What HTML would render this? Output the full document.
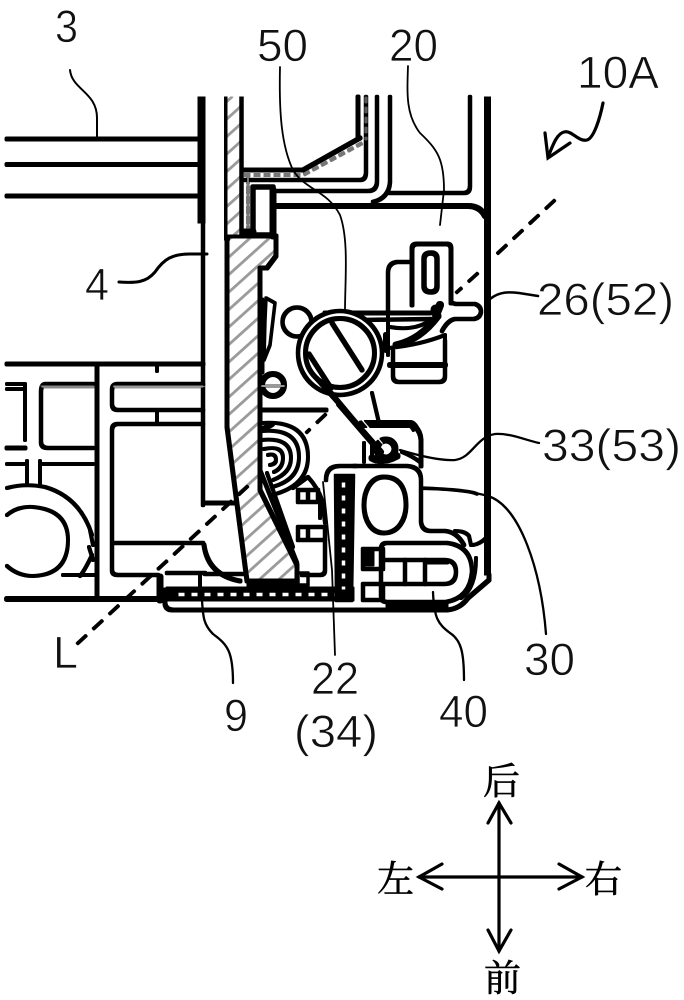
<!DOCTYPE html>
<html><head><meta charset="utf-8"><style>
html,body{margin:0;padding:0;background:#fff}
svg{display:block}
text{font-family:"Liberation Sans","Noto Sans CJK SC",sans-serif;font-size:45px;fill:#111;stroke:#fff;stroke-width:.7px;paint-order:normal}
.c{font-family:"Noto Serif CJK SC","Noto Sans CJK SC",serif;font-size:37px;stroke:#000;stroke-width:.6px;fill:#000}
</style></head><body>
<svg width="684" height="1000" viewBox="0 0 684 1000" xmlns="http://www.w3.org/2000/svg">
<defs>
<pattern id="h" width="13" height="13" patternUnits="userSpaceOnUse" patternTransform="rotate(-42)">
<rect width="13" height="13" fill="#fff"/><rect y="5.500" width="13" height="1.400" fill="#9a9a9a"/>
</pattern>
<filter id="thick" filterUnits="userSpaceOnUse" x="0" y="0" width="684" height="1000" color-interpolation-filters="sRGB">
<feMorphology operator="erode" radius="0.5"/>
<feGaussianBlur stdDeviation="0.35"/>
</filter>
</defs>
<rect width="684" height="1000" fill="#fff"/>
<g filter="url(#thick)">
<rect width="684" height="1000" fill="#fff"/>
<g fill="none" stroke="#000" stroke-width="3.5" stroke-linecap="round" stroke-linejoin="round">

<!-- upper left horizontal rails -->
<path d="M7 139H200M7 164.500H200M7 196H200" stroke-width="4"/>
<path d="M201.500 97V223" stroke-width="7" stroke-linecap="butt"/>
<path d="M203 222V505" stroke-width="3.500"/>

<!-- hatched post -->
<path d="M227 236V427L247 581H297V565L260 490V268H267L276 256V236Z" fill="url(#h)" stroke-width="4"/>
<path d="M227 97V240" stroke-width="5" stroke-linecap="butt"/>
<path d="M227 97H241V235H227Z" fill="url(#h)" stroke="none"/>
<path d="M241.500 97V236" stroke-width="3.500" stroke-linecap="butt"/>
<path d="M243 232H253" stroke-width="6"/>
<path d="M244 170H303L360 138" stroke-width="4"/>
<path d="M244 180H360Q366 180 366 172V97" stroke-width="3.500"/>
<path d="M358 97V138" stroke-width="4"/>
<path d="M244 175H303L366 141" stroke="#777" stroke-width="3" stroke-dasharray="6 4" stroke-linecap="butt"/>
<path d="M366 97V140" stroke="#777" stroke-width="2.500" stroke-dasharray="6 4"/>
<path d="M248 177V228" stroke="#777" stroke-width="3" stroke-dasharray="6 4"/>
<path d="M253 187H273V235H253Z" stroke-width="4.500"/>
<path d="M273 190V236" stroke-width="6"/>
<path d="M277 191H368Q377 191 377 181V97" stroke-width="3.500"/>
<path d="M373 202Q389 198 390 182V97" stroke-width="3.500"/>
<path d="M389 193H464Q470 193 470 186V97" stroke-width="3.500"/>
<path d="M275 206H468Q480 206 485 216" stroke-width="5"/>

<!-- outer right wall -->
<path d="M487.500 97V575" stroke-width="6" stroke-linecap="butt"/>
<path d="M489 575V580L468 598" stroke-width="4"/>

<!-- thin clip on post -->
<path d="M266 298L275 303L270 345L264 360L265 320Z" stroke-width="2.500"/>
<path d="M262 300V372" stroke-width="4"/>

<!-- left frame -->
<path d="M7 364H203" stroke-width="4"/>
<path d="M157 364V371M157 410V424" stroke-width="3"/>
<path d="M97 366V596" stroke-width="4"/>
<path d="M7 599H160" stroke-width="5"/>
<path d="M7 384H25V440M7 389H25" stroke-width="3"/>
<path d="M93 384H46Q41 384 41 392V442Q41 448 48 448H93" stroke-width="3.500"/>
<path d="M42 386.500H93" stroke="#888" stroke-width="3" />
<path d="M7 448H25" stroke-width="4"/>
<path d="M203 384H118Q112 384 112 390V404Q112 410 118 410H203" stroke-width="3.500"/>
<path d="M114 386.500H203" stroke="#999" stroke-width="3"/>
<path d="M203 424H118Q112 424 112 430V570Q112 575 118 575H158" stroke-width="3.500"/>
<path d="M113 543H203" stroke-width="3.500"/>
<path d="M7 464H25M42 464H93" stroke-width="3"/>
<path d="M27 461V484M40 461V484" stroke-width="3"/>
<path d="M7 488Q25 483 45 487Q80 497 92 535" stroke-width="3"/>
<path d="M7 515Q18 506 33 507Q68 510 68 540Q68 575 33 576Q18 576 7 566" stroke-width="3"/>
<path d="M92 555Q85 570 80 576M63 575H97" stroke-width="3"/>
<path d="M90 530L93 545M89 547L93 560" stroke-width="3"/>

<!-- small pin circle on post -->
<circle cx="273" cy="385" r="11" stroke-width="5"/>
<path d="M262 386H284" stroke="#999" stroke-width="3"/>
<path d="M262 410H326" stroke-width="4"/>

<!-- bottom mold piece 9 -->
<path d="M205 503H234" stroke-width="4"/>
<path d="M204 545Q208 575 240 581" stroke-width="4"/>
<path d="M167 573H205M205 574H246" stroke-width="3.500"/>
<path d="M200 574V586" stroke-width="3"/>
<path d="M160 577V600" stroke-width="6"/>

<!-- coil -->
<path d="M262 423Q308 420 308 457Q308 486 272 495" stroke-width="3"/>
<path d="M262 431Q299 428 299 457Q299 480 272 487" stroke-width="3"/>
<path d="M262 440Q291 437 291 458Q291 473 273 480" stroke-width="3"/>
<path d="M264 449Q283 445 283 458Q283 468 274 472" stroke-width="3"/>
<path d="M268 455Q276 453 276 460Q276 464 270 465" stroke-width="3"/>
<path d="M262 430L272 424" stroke-width="5"/>

<!-- lower body of 22 -->
<path d="M260 470L297 563" stroke-width="3.500"/>
<path d="M267 473L293 547" stroke-width="3"/>
<path d="M293 488L308 477Q318 488 322 500L325 523" stroke-width="3"/>
<path d="M298 490H318V502H298ZM308 490V502" stroke-width="3.500"/>
<path d="M298 527H325V540H298ZM308 527V540" stroke-width="3.500"/>
<path d="M325 540V570Q325 575 320 575H302" stroke-width="3.500"/>
<path d="M320 502V518" stroke-width="3"/>
<path d="M298 573H308V585H298Z" stroke-width="2.500"/>
<path d="M248 580H297V587H248Z" fill="#000" stroke-width="2"/>

<!-- bottom strip -->
<path d="M167 588H353V600H167Z" fill="#000" stroke-width="2"/>
<path d="M178 594.500H340" stroke="#fff" stroke-width="4.500" stroke-dasharray="7 6" stroke-linecap="butt"/>
<path d="M165 590V604Q166 610 173 610H447Q460 609 468 598" stroke-width="4"/>
<path d="M386 607H448" stroke-width="7" stroke-linecap="butt"/>
<!-- vertical strip -->
<path d="M335 475H354L352 601H336Z" fill="#000" stroke-width="1.500"/>
<path d="M343.500 482V590" stroke="#fff" stroke-width="4.500" stroke-dasharray="6 7" stroke-linecap="butt"/>

<!-- part 30 -->
<path d="M354 466H407Q421 467 421 480V522Q422 531 431 531H445Q457 532 464 545" stroke-width="3.500"/>
<path d="M326 480Q326 466 340 466H356" stroke-width="3.500"/>
<path d="M384 477C402 477 406 492 406 505C406 520 398 533 384 533C371 533 364 520 364 505C364 492 370 477 384 477Z" stroke-width="4"/>
<path d="M421 488Q470 490 477 494" stroke-width="2.500"/>

<!-- part 40 -->
<path d="M387 543H447Q472 546 472 572Q470 598 446 602H387Q381 602 381 596V549Q381 543 387 543Z" fill="#fff" stroke-width="3.500"/>
<path d="M384 560H444Q456 560 456 572Q456 584 444 584H384" stroke-width="3.500"/>
<path d="M405 560V584M425 560V584" stroke-width="3.500"/>
<path d="M427 562H447" stroke-width="4"/>
<path d="M363 549H383V569H363Z" stroke-width="3.500"/>
<path d="M363 549H373V565H363Z" fill="#000" stroke-width="2"/>
<path d="M363 584H383V600H363Z" stroke-width="3.500"/>
<path d="M455 531Q465 531 469 536L471 545M473 545Q480 544 486 538" stroke-width="3"/>
<path d="M476 558Q476 588 461 598" stroke-width="3"/>

<!-- pin & upper cam -->
<path d="M361 423H400Q420 423 421 440V466" stroke-width="4"/>
<path d="M361 424H410Q413 424 416 430" stroke-width="7" stroke-linecap="butt"/>
<path d="M372 393L379 423" stroke-width="3"/>
<path d="M364 443V462M372 443V457" stroke-width="3"/>
<path d="M402 452Q412 456 420 462" stroke-width="3"/>
<circle cx="386" cy="449" r="9" stroke-width="6"/>
<path d="M372 458Q382 464 397 456" stroke-width="6"/>

<!-- spring 50 -->
<circle cx="297" cy="322" r="14.500" fill="#fff" stroke-width="3.500"/>
<path d="M325 313H430" stroke-width="4"/>
<path d="M360 320L432 319" stroke-width="3.500"/>
<circle cx="340" cy="353" r="42" fill="#fff" stroke-width="3.500"/>
<circle cx="340" cy="353" r="34.500" fill="#fff" stroke-width="4"/>
<path d="M332 323L362 370" stroke-width="4"/>
<path d="M309 354L331 388" stroke-width="4"/>
<path d="M316 378L381 451" stroke-width="3.500"/>
<path d="M328 390L382 452" stroke-width="3"/>
<path d="M322 382L372 442" stroke-width="4"/>
<path d="M339 404L376 447" stroke-width="5"/>
<path d="M344 399L382 443" stroke="#fff" stroke-width="2.500"/>

<!-- part 26 stud -->
<path d="M412 305V249Q412 244 417 244H447Q451 244 451 249V303" stroke-width="4"/>
<path d="M424 259Q424 253 431 253Q437 253 437 259V286Q437 292 431 292Q424 292 424 286Z" stroke-width="4.500"/>
<path d="M412 262H397Q388 263 388 273V312" stroke-width="3.500"/>
<path d="M451 302Q451 303 456 304H475Q481 306 481 312Q480 318 474 319H455Q448 320 442 331" stroke-width="3.500"/>
<path d="M436 315L440 305" stroke-width="7"/>
<path d="M396 345Q420 340 438 316" stroke-width="6"/>
<path d="M390 327Q412 331 428 322" stroke-width="3"/>
<path d="M386 335V350" stroke-width="5"/>
<path d="M389 348Q420 345 445 335V360" stroke-width="3"/>
<path d="M388 355V312" stroke-width="3"/>
<path d="M393 351V376Q393 382 399 382H439Q445 382 445 376V341" stroke-width="3.500"/>
<path d="M390 365H445" stroke-width="5"/>
<circle cx="436" cy="310" r="3.500" fill="#000" stroke-width="3"/>
</g>

<!-- dashed axis L -->
<g fill="none" stroke="#000" stroke-width="2.500" stroke-dasharray="13 9">
<path d="M555 200L497 254"/>
<path d="M478 273L456 293"/>
<path d="M326 414L306 433"/>
<path d="M248 486L77 644"/>
</g>
</g>

<!-- leader lines -->
<g fill="none" stroke="#000" stroke-width="2.200" stroke-linecap="round">
<path d="M70 70C72 90 97 92 97 118V138" stroke-width="2"/>
<path d="M280 67C279 110 281 145 293 170C305 190 327 190 340 215C349 240 345 280 345 311" stroke-width="1.800"/>
<path d="M408 66C407 95 406 115 420 133C438 150 444 160 444 190L440 225" stroke-width="1.800"/>
<path d="M119 282C135 283 146 283 155 272C164 259 172 254 190 254H207" stroke-width="3"/>
<path d="M490 299C500 291 510 292 519 293L538 296" stroke-width="2.600"/>
<path d="M400 450C420 456 440 461 455 460C472 458 476 437 495 434C510 433 525 440 539 443" stroke-width="2.300"/>
<path d="M422 489C445 489 470 491 488 496C520 506 541 570 546 634" stroke-width="2.300"/>
<path d="M433 592C434 618 438 624 450 633C461 640 464 652 464 680" stroke-width="2.300"/>
<path d="M323 482L332 570L335 655" stroke-width="1.800"/>
<path d="M202 600C203 618 204 625 213 634C228 645 233 652 233 683" stroke-width="2.300"/>
<!-- 10A squiggle -->
<path d="M603 103C600 118 594 138 587 140C578 142 572 130 564 132C556 134 552 148 548 157" stroke-width="3.200"/>
<path d="M545 133L548 158L570 143" stroke-width="3.200"/>
</g>

<!-- direction cross -->
<g fill="none" stroke="#000" stroke-width="3.200" stroke-linecap="round" stroke-linejoin="miter">
<path d="M499 803V951M419 877H582"/>
<path d="M488 823L499 803L511 823M488 930L499 951L511 930"/>
<path d="M442 864L419 877L442 889M559 864L582 877L559 889"/>
</g>

<!-- labels -->
<text x="55" y="42" textLength="23" lengthAdjust="spacingAndGlyphs">3</text>
<text x="257" y="61" textLength="51" lengthAdjust="spacingAndGlyphs">50</text>
<text x="389" y="61" textLength="49" lengthAdjust="spacingAndGlyphs">20</text>
<text x="577" y="88" textLength="82" lengthAdjust="spacingAndGlyphs">10A</text>
<text x="85" y="300" textLength="24" lengthAdjust="spacingAndGlyphs">4</text>
<text x="537" y="315" textLength="137" lengthAdjust="spacingAndGlyphs">26(52)</text>
<text x="542" y="461" textLength="139" lengthAdjust="spacingAndGlyphs">33(53)</text>
<text x="524" y="675" textLength="51" lengthAdjust="spacingAndGlyphs">30</text>
<text x="53" y="668" textLength="25" lengthAdjust="spacingAndGlyphs">L</text>
<text x="224" y="731" textLength="24" lengthAdjust="spacingAndGlyphs">9</text>
<text x="311" y="694" textLength="48" lengthAdjust="spacingAndGlyphs">22</text>
<text x="294" y="747" textLength="84" lengthAdjust="spacingAndGlyphs">(34)</text>
<text x="439" y="727" textLength="49" lengthAdjust="spacingAndGlyphs">40</text>
<text class="c" x="483" y="794">后</text>
<text class="c" x="377" y="892">左</text>
<text class="c" x="585" y="892">右</text>
<text class="c" x="484" y="991">前</text>
</svg>
</body></html>
